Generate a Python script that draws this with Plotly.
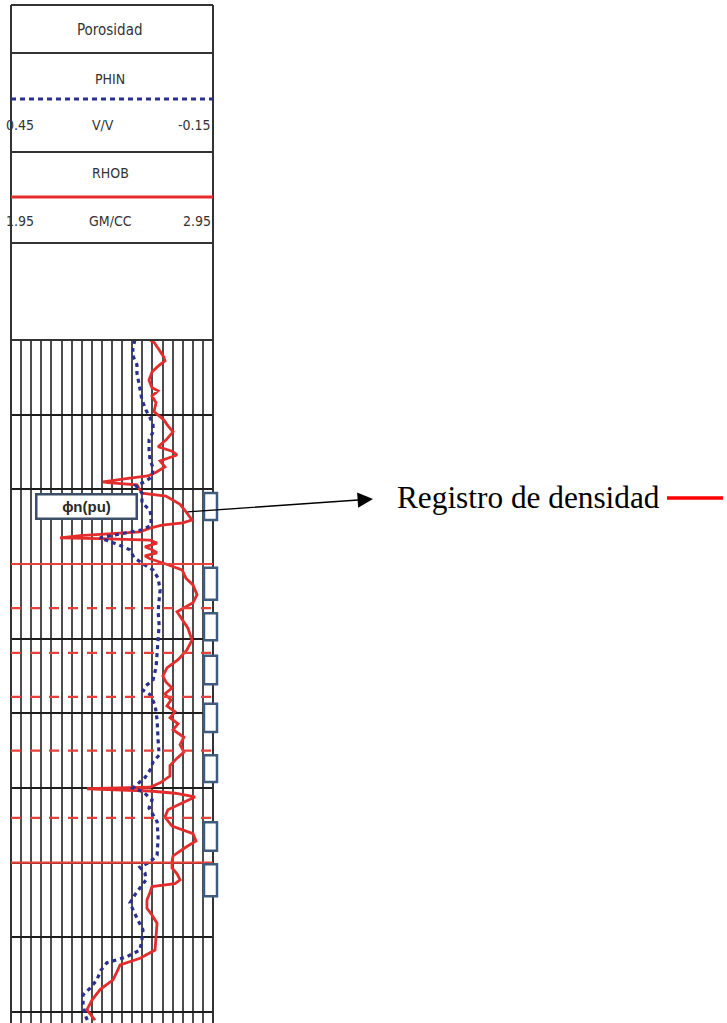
import plotly.graph_objects as go

W, H = 727, 1023

# ---------------- log data ----------------
# Bulk density (RHOB, g/cc) versus depth
rhob_depth = [2300.0, 2300.3, 2301.3, 2302.3, 2302.8, 2303.5, 2304.3, 2305.4, 2306.4, 2306.8,
              2307.5, 2308.4, 2309.6, 2310.7, 2311.5, 2312.3, 2313.4, 2313.7, 2314.3, 2314.9,
              2315.4, 2316.2, 2317.0, 2317.7, 2318.2, 2318.5, 2319.0, 2319.1, 2319.4, 2320.1,
              2320.5, 2320.9, 2322.0, 2323.0, 2324.1, 2324.5, 2324.8, 2325.2, 2325.7, 2326.2,
              2326.5, 2326.6, 2326.8, 2327.2, 2327.7, 2328.1, 2328.5, 2328.9, 2329.3, 2330.1,
              2330.8, 2331.9, 2332.8, 2334.1, 2335.2, 2336.4, 2337.5, 2338.6, 2340.2, 2341.5,
              2342.8, 2343.9, 2345.0, 2345.8, 2346.6, 2347.4, 2348.2, 2349.0, 2349.8, 2350.6,
              2351.4, 2352.2, 2353.2, 2354.2, 2355.2, 2356.0, 2357.0, 2358.4, 2359.3, 2359.9,
              2360.1, 2360.4, 2360.7, 2361.2, 2362.0, 2362.9, 2363.9, 2365.1, 2366.1, 2367.1,
              2368.0, 2369.1, 2369.9, 2370.7, 2371.5, 2372.3, 2372.8, 2373.2, 2374.0, 2375.0,
              2376.1, 2377.0, 2378.1, 2379.7, 2381.7, 2382.8, 2383.7, 2384.6, 2385.7, 2387.0,
              2388.4, 2389.7, 2391.1]
rhob = [2.638, 2.658, 2.683, 2.707, 2.712, 2.678, 2.648, 2.633, 2.648, 2.678,
        2.648, 2.668, 2.658, 2.707, 2.727, 2.752, 2.717, 2.702, 2.678, 2.747,
        2.772, 2.688, 2.712, 2.668, 2.628, 2.539, 2.405, 2.430, 2.574, 2.589,
        2.598, 2.717, 2.787, 2.816, 2.846, 2.801, 2.697, 2.638, 2.589, 2.292,
        2.193, 2.391, 2.638, 2.673, 2.613, 2.648, 2.673, 2.613, 2.638, 2.727,
        2.797, 2.816, 2.851, 2.871, 2.851, 2.772, 2.801, 2.826, 2.846, 2.821,
        2.777, 2.722, 2.702, 2.717, 2.747, 2.712, 2.742, 2.722, 2.762, 2.737,
        2.777, 2.752, 2.806, 2.787, 2.806, 2.772, 2.737, 2.737, 2.688, 2.638,
        2.326, 2.638, 2.762, 2.861, 2.797, 2.727, 2.712, 2.747, 2.851, 2.866,
        2.811, 2.752, 2.747, 2.747, 2.772, 2.787, 2.762, 2.648, 2.638, 2.623,
        2.623, 2.648, 2.673, 2.668, 2.663, 2.589, 2.490, 2.475, 2.455, 2.391,
        2.351, 2.326, 2.366]

# Neutron porosity (PHIN, v/v) versus depth
phin_depth = [2300.0, 2301.1, 2302.1, 2303.3, 2304.4, 2305.8, 2307.0, 2308.0, 2309.4, 2310.4,
              2311.4, 2312.3, 2313.4, 2314.7, 2316.1, 2317.1, 2318.3, 2319.0, 2319.5, 2320.5,
              2321.8, 2322.8, 2323.8, 2324.8, 2325.4, 2326.1, 2326.5, 2326.9, 2327.4, 2328.1,
              2329.1, 2329.9, 2330.8, 2331.9, 2333.5, 2334.8, 2336.4, 2338.2, 2340.2, 2342.2,
              2343.8, 2345.5, 2346.3, 2346.9, 2347.5, 2348.9, 2350.9, 2353.6, 2355.6, 2356.5,
              2357.6, 2358.6, 2359.5, 2360.0, 2360.5, 2361.6, 2362.7, 2363.6, 2364.5, 2366.7,
              2369.0, 2369.9, 2370.6, 2371.4, 2372.3, 2373.4, 2374.3, 2375.4, 2376.3, 2377.7,
              2379.0, 2380.3, 2381.7, 2382.6, 2383.4, 2384.4, 2385.7, 2386.8, 2387.7, 2389.0,
              2390.4, 2391.3]
phin = [0.082, 0.088, 0.088, 0.076, 0.076, 0.070, 0.067, 0.061, 0.049, 0.037,
        0.028, 0.028, 0.040, 0.040, 0.037, 0.028, 0.031, 0.052, 0.079, 0.061,
        0.061, 0.037, 0.034, 0.034, 0.058, 0.141, 0.186, 0.162, 0.132, 0.097,
        0.085, 0.061, 0.028, 0.013, 0.007, 0.010, 0.013, 0.010, 0.013, 0.016,
        0.019, 0.028, 0.049, 0.058, 0.037, 0.022, 0.016, 0.013, 0.010, 0.028,
        0.037, 0.052, 0.073, 0.088, 0.058, 0.031, 0.040, 0.028, 0.016, 0.013,
        0.016, 0.037, 0.067, 0.052, 0.049, 0.067, 0.082, 0.097, 0.088, 0.073,
        0.058, 0.061, 0.067, 0.106, 0.165, 0.183, 0.195, 0.215, 0.236, 0.236,
        0.230, 0.221]

# Zone boundaries drawn across the track
zone_tops = [2330.0, 2335.9, 2341.9, 2347.8, 2355.0, 2364.0, 2370.0]
zone_styles = ["solid", "dash", "dash", "dash", "dash", "dash", "solid"]

# Interval flags of the neighbouring track (top, base)
flag_tops = [2320.5, 2330.5, 2336.6, 2342.3, 2348.7, 2355.6, 2364.6, 2370.2]
flag_bases = [2324.1, 2334.8, 2340.2, 2346.1, 2352.5, 2359.2, 2368.4, 2374.5]

# Track scales and header labels
phin_scale = [0.45, -0.15]
rhob_scale = [1.95, 2.95]
depth_top, depth_bottom = 2300.0, 2391.47
phin_labels = ["0.45", "V/V", "-0.15"]
rhob_labels = ["1.95", "GM/CC", "2.95"]
track_title = "Porosidad"
pointer_text = "Registro de densidad"
box_text = "ϕn(pu)"

# ---------------- page geometry (pixels) ----------------
TL, TR = 11, 213          # track left / right edges
TTOP = 340                # top of the depth track
HEAD_LINES = [5, 53, 152, 243]

RED = "#e42c2c"
BLUE = "#2b2f8f"
INK = "#333333"
NARROW = "Liberation Sans Narrow, DejaVu Sans Condensed, Arial Narrow, Liberation Sans, sans-serif"


def px(x):
    return x / W


def py(y):
    return 1 - y / H


fig = go.Figure()

fig.add_trace(go.Scatter(
    x=phin, y=phin_depth, xaxis="x2", yaxis="y", mode="lines",
    line=dict(color=BLUE, width=3.2, dash="4px,4px"), hoverinfo="skip", name="PHIN"))
fig.add_trace(go.Scatter(
    x=rhob, y=rhob_depth, xaxis="x", yaxis="y", mode="lines",
    line=dict(color=RED, width=2.8), hoverinfo="skip", name="RHOB"))

shapes = []

# header frame
for yy in HEAD_LINES + [TTOP]:
    shapes.append(dict(type="line", xref="paper", yref="paper",
                       x0=px(TL), x1=px(TR), y0=py(yy), y1=py(yy),
                       line=dict(color=INK, width=2)))
for xx in (TL, TR):
    shapes.append(dict(type="line", xref="paper", yref="paper",
                       x0=px(xx), x1=px(xx), y0=py(HEAD_LINES[0]), y1=py(H),
                       line=dict(color=INK, width=2)))

# curve keys in the header
shapes.append(dict(type="line", xref="paper", yref="paper",
                   x0=px(TL), x1=px(TR), y0=py(99), y1=py(99),
                   line=dict(color=BLUE, width=3, dash="5px,4px")))
shapes.append(dict(type="line", xref="paper", yref="paper",
                   x0=px(TL), x1=px(TR), y0=py(197), y1=py(197),
                   line=dict(color=RED, width=3)))

# zone boundaries
for d, st in zip(zone_tops, zone_styles):
    shapes.append(dict(type="line", xref="paper", yref="y", layer="above",
                       x0=px(TL), x1=px(TR), y0=d, y1=d,
                       line=dict(color="#e8403a", width=2.2,
                                 dash="solid" if st == "solid" else "10px,9px")))

# flags of the neighbouring track
for t, b in zip(flag_tops, flag_bases):
    shapes.append(dict(type="rect", xref="paper", yref="y", layer="above",
                       x0=px(204), x1=px(217), y0=t, y1=b,
                       fillcolor="white", line=dict(color="#3f5b7d", width=2.5)))

# red key next to the pointer label
shapes.append(dict(type="line", xref="paper", yref="paper",
                   x0=px(667), x1=px(723), y0=py(498), y1=py(498),
                   line=dict(color="#ff0000", width=3.5)))

annotations = []


def label(text, x, y, anchor="center", size=14, family=NARROW, color=INK, **kw):
    annotations.append(dict(text=text, x=px(x), y=py(y), xref="paper", yref="paper",
                            xanchor=anchor, yanchor="middle", showarrow=False,
                            font=dict(family=family, size=size, color=color), **kw))


label(track_title, 110, 30, size=15)
label("PHIN", 110, 79, size=14)
label(phin_labels[0], 4, 125, anchor="left", size=14)
label(phin_labels[1], 103, 125, size=14)
label(phin_labels[2], 213, 125, anchor="right", size=14)
label("RHOB", 110, 173, size=14)
label(rhob_labels[0], 4, 221, anchor="left", size=14)
label(rhob_labels[1], 110, 221, size=14)
label(rhob_labels[2], 213, 221, anchor="right", size=14)

# porosity tag box
annotations.append(dict(text="<b>" + box_text + "</b>", x=px(86.5), y=py(506),
                        xref="paper", yref="paper", xanchor="center", yanchor="middle",
                        showarrow=False, width=96, height=20, borderpad=1,
                        bgcolor="white", bordercolor="#3d4f66", borderwidth=2.5,
                        font=dict(family="Liberation Sans, Arial, sans-serif", size=15,
                                  color="#2a2a2a")))

# pointer arrow from the density curve to the label
annotations.append(dict(text="", x=px(373), y=py(499), xref="paper", yref="paper",
                        showarrow=True, ax=-187, ay=13, arrowhead=2, arrowsize=2.2,
                        arrowwidth=1.4, arrowcolor="black", standoff=0, startstandoff=0))

label(pointer_text, 395, 497, anchor="left", size=31.3,
      family="Liberation Serif, Times New Roman, serif", color="black")

fig.update_layout(
    width=W, height=H,
    margin=dict(l=0, r=0, t=0, b=0),
    paper_bgcolor="white", plot_bgcolor="white",
    showlegend=False,
    xaxis=dict(domain=[px(TL), px(TR)], range=rhob_scale, tick0=1.95, dtick=0.05,
               showgrid=True, gridcolor="#4d4d4d", gridwidth=1.7,
               showticklabels=False, ticks="", zeroline=False, showline=False,
               fixedrange=True),
    xaxis2=dict(overlaying="x", anchor="y", range=phin_scale, showgrid=False,
                showticklabels=False, ticks="", zeroline=False, showline=False,
                visible=False),
    yaxis=dict(domain=[0, py(TTOP)], range=[depth_bottom, depth_top], tick0=2300,
               dtick=10, showgrid=True, gridcolor="#1e1e1e", gridwidth=2,
               showticklabels=False, ticks="", zeroline=False, showline=False,
               fixedrange=True),
    shapes=shapes,
    annotations=annotations,
)

fig.write_html("out.html")
